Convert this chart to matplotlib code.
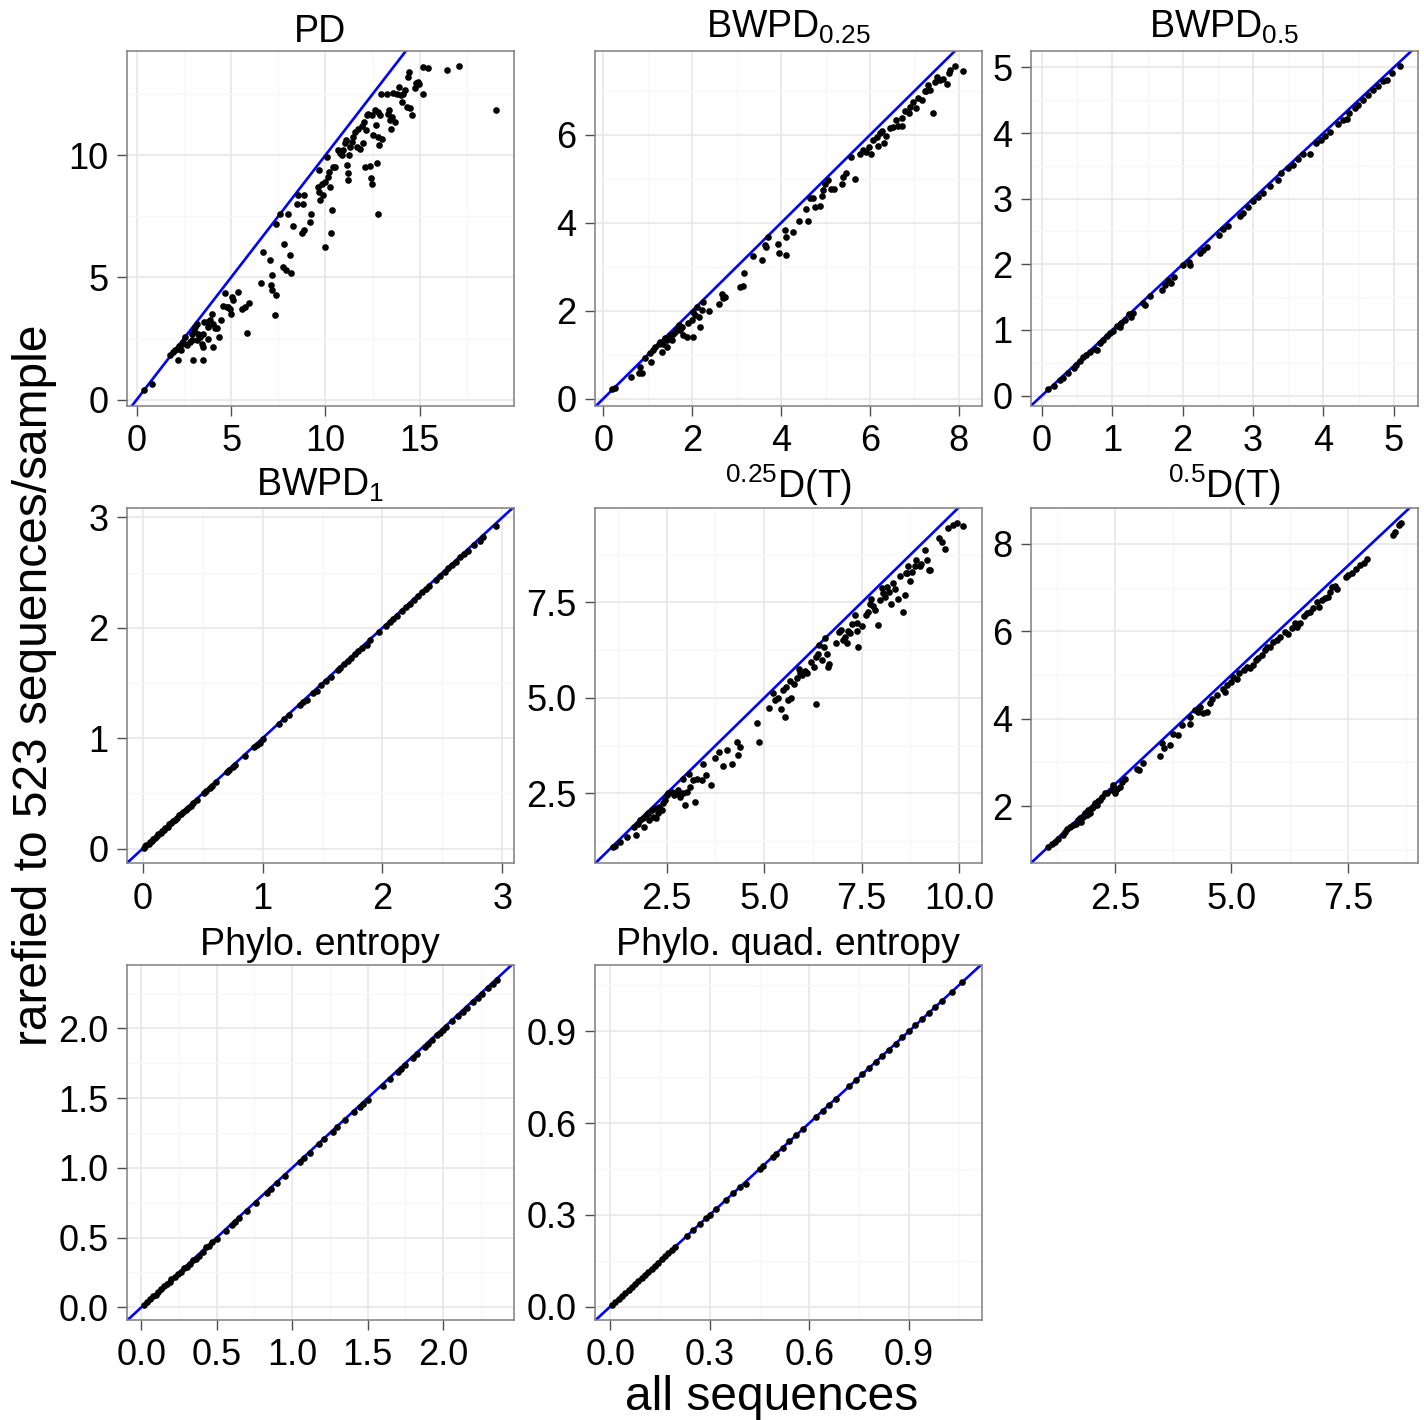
import matplotlib
matplotlib.use('Agg')
import matplotlib.pyplot as plt
from matplotlib.ticker import FixedLocator, FixedFormatter, MultipleLocator

plt.rcParams['font.family'] = ['Liberation Sans', 'DejaVu Sans']
plt.rcParams['mathtext.fontset'] = 'custom'
plt.rcParams['mathtext.rm'] = 'Liberation Sans'
plt.rcParams['mathtext.it'] = 'Liberation Sans:italic'
plt.rcParams['mathtext.bf'] = 'Liberation Sans:bold'

# ---------------- data ----------------
pd_x = [0.41, 0.80, 1.77, 1.94, 2.03, 2.16, 2.21, 2.26, 2.39, 2.33, 2.47, 2.56, 2.65, 2.83, 2.92, 3.00,
        3.04, 3.09, 3.18, 2.92, 3.18, 3.27, 3.36, 3.45, 3.50, 3.53, 3.53, 3.59, 3.71, 3.80, 3.80, 3.89,
        3.98, 4.03, 4.06, 4.15, 4.24, 4.38, 4.45, 4.59, 4.66, 4.77, 4.86, 4.95, 4.98, 5.04, 5.09, 5.39,
        5.57, 5.74, 5.83, 5.97, 6.57, 6.71, 7.07, 7.17, 7.10, 7.16, 7.33, 7.39, 7.37, 7.60, 7.74, 7.81,
        7.92, 8.04, 8.13, 8.16, 8.27, 8.48, 8.53, 8.75, 8.83, 8.89, 8.87, 9.19, 9.22, 9.63, 9.68, 9.65,
        9.72, 9.81, 9.89, 9.95, 9.98, 10.07, 10.16, 10.21, 10.25, 10.28, 10.34, 10.39, 10.51, 10.64,
        10.78, 10.87, 10.95, 11.04, 11.08, 11.13, 11.17, 11.22, 11.27, 11.31, 11.40, 11.48, 11.57,
        11.66, 11.75, 11.84, 11.93, 11.98, 12.05, 12.10, 12.16, 12.19, 12.28, 12.37, 12.40, 12.46,
        12.46, 12.54, 12.60, 12.67, 12.72, 12.76, 12.81, 12.81, 12.86, 12.90, 12.93, 12.99, 13.25,
        13.34, 13.39, 13.43, 13.46, 13.52, 13.57, 13.69, 13.78, 13.92, 13.99, 14.05, 14.13, 14.22,
        14.31, 14.36, 14.45, 14.49, 14.58, 14.75, 14.81, 14.93, 14.98, 15.16, 15.19, 15.46, 16.43,
        17.08, 19.06]
pd_y = [0.38, 0.65, 1.83, 1.95, 2.02, 2.09, 1.64, 2.18, 2.26, 2.02, 2.36, 2.56, 2.22, 2.36, 2.70, 1.64,
        2.84, 2.97, 3.11, 2.43, 2.43, 2.70, 2.56, 2.29, 2.70, 1.64, 2.16, 3.18, 3.18, 2.50, 2.97, 3.25,
        3.52, 2.16, 3.11, 2.95, 2.91, 2.56, 3.27, 3.82, 4.37, 3.79, 3.79, 3.72, 3.52, 4.20, 4.07, 4.41,
        3.72, 3.79, 2.73, 3.97, 4.77, 6.04, 5.73, 5.09, 4.68, 4.47, 3.45, 4.27, 7.18, 7.59, 5.43, 6.36,
        5.29, 7.59, 5.91, 5.18, 7.11, 8.02, 8.36, 6.82, 8.02, 8.36, 6.93, 7.27, 7.61, 8.70, 9.41, 8.50,
        8.16, 8.84, 8.36, 6.25, 8.91, 9.93, 9.11, 9.32, 8.70, 6.82, 7.75, 9.52, 9.50, 10.20,
        10.10, 10.00, 10.20, 10.48, 10.61, 9.59, 9.25, 8.98, 10.00, 10.34, 10.55, 10.75, 10.96,
        10.34, 11.09, 10.27, 11.19, 10.48, 11.36, 9.52, 11.02, 11.64, 11.70, 9.55, 9.05, 11.64,
        8.84, 10.82, 11.84, 11.23, 9.69, 11.77, 10.75, 7.61, 10.41, 11.64, 12.52, 10.68, 12.52,
        11.70, 11.84, 11.43, 11.09, 11.57, 12.55, 11.36, 12.52, 12.80, 12.46, 12.18, 12.52, 12.66,
        11.98, 13.21, 13.41, 11.91, 11.64, 12.73, 12.96, 13.00, 12.93, 12.50, 13.59, 13.55, 13.48,
        13.64, 11.84]

bw025_x = [0.19, 0.26, 0.61, 0.79, 0.82, 0.86, 0.94, 1.05, 1.06, 1.11, 1.16, 1.24, 1.27, 1.31, 1.35,
           1.39, 1.42, 1.44, 1.50, 1.54, 1.57, 1.61, 1.65, 1.69, 1.72, 1.76, 1.80, 1.87, 1.91, 1.99,
           2.02, 2.02, 2.06, 2.10, 2.14, 2.17, 2.21, 2.25, 2.38, 2.59, 2.66, 2.70, 2.74, 3.07, 3.15,
           3.16, 3.37, 3.58, 3.64, 3.67, 3.71, 3.94, 3.96, 4.09, 4.11, 4.11, 4.27, 4.41, 4.56, 4.61,
           4.65, 4.72, 4.76, 4.87, 4.93, 4.95, 4.99, 5.06, 5.13, 5.19, 5.36, 5.40, 5.46, 5.58, 5.66,
           5.77, 5.85, 5.92, 5.98, 6.03, 6.07, 6.15, 6.18, 6.22, 6.28, 6.31, 6.37, 6.45, 6.52, 6.58,
           6.63, 6.71, 6.73, 6.78, 6.88, 6.90, 6.97, 7.03, 7.08, 7.16, 7.23, 7.27, 7.31, 7.35, 7.42,
           7.46, 7.50, 7.57, 7.65, 7.74, 7.78, 7.80, 7.91, 8.10]
bw025_y = [0.21, 0.23, 0.48, 0.57, 0.72, 0.58, 0.93, 1.03, 0.84, 1.10, 1.18, 1.25, 1.29, 1.06, 1.25,
           1.37, 1.33, 1.18, 1.44, 1.33, 1.48, 1.52, 1.59, 1.67, 1.56, 1.63, 1.44, 1.40, 1.71, 1.78,
           1.39, 1.97, 1.90, 2.09, 1.86, 1.62, 2.01, 2.20, 2.00, 2.16, 2.39, 2.28, 2.32, 2.53, 2.56,
           2.86, 3.24, 3.15, 3.49, 3.45, 3.67, 3.52, 3.32, 3.83, 3.67, 3.27, 3.80, 4.05, 4.31, 4.05,
           4.57, 4.56, 4.37, 4.38, 4.61, 4.75, 4.88, 4.97, 4.76, 4.76, 4.88, 5.05, 5.14, 5.50, 4.99,
           5.57, 5.66, 5.62, 5.73, 5.57, 5.88, 5.96, 5.75, 6.04, 6.10, 5.81, 5.98, 6.15, 6.19, 6.33,
           6.20, 6.20, 6.38, 6.55, 6.51, 6.64, 6.76, 6.61, 6.83, 6.80, 6.99, 7.01, 7.14, 7.02, 6.49,
           7.21, 7.31, 7.25, 7.27, 7.16, 7.40, 7.48, 7.57, 7.46]

bw05_x = [0.09, 0.17, 0.26, 0.30, 0.37, 0.45, 0.49, 0.54, 0.59, 0.63, 0.68, 0.75, 0.78, 0.82, 0.87,
          0.92, 0.97, 1.01, 1.06, 1.11, 1.13, 1.18, 1.23, 1.27, 1.30, 1.43, 1.46, 1.53, 1.71, 1.75,
          1.79, 1.84, 1.87, 2.01, 2.09, 2.10, 2.24, 2.29, 2.34, 2.52, 2.58, 2.65, 2.81, 2.86, 2.93,
          3.00, 3.07, 3.14, 3.24, 3.36, 3.40, 3.50, 3.57, 3.64, 3.71, 3.81, 3.90, 3.97, 4.02, 4.09,
          4.21, 4.28, 4.33, 4.37, 4.45, 4.49, 4.56, 4.64, 4.71, 4.78, 4.85, 4.91, 4.97, 5.09]
bw05_y = [0.10, 0.15, 0.23, 0.26, 0.35, 0.42, 0.47, 0.53, 0.58, 0.62, 0.67, 0.71, 0.69, 0.80, 0.84,
          0.90, 0.95, 0.99, 1.06, 1.05, 1.10, 1.15, 1.24, 1.20, 1.26, 1.41, 1.38, 1.51, 1.61, 1.69,
          1.76, 1.71, 1.81, 1.99, 2.04, 1.99, 2.17, 2.22, 2.27, 2.45, 2.53, 2.58, 2.74, 2.78, 2.87,
          2.96, 3.03, 3.08, 3.19, 3.29, 3.39, 3.47, 3.52, 3.60, 3.68, 3.68, 3.85, 3.90, 3.95, 4.02,
          4.14, 4.20, 4.21, 4.30, 4.38, 4.42, 4.51, 4.58, 4.65, 4.71, 4.79, 4.81, 4.91, 5.02]

bw1_x = [0.01, 0.02, 0.03, 0.05, 0.06, 0.08, 0.09, 0.10, 0.12, 0.13, 0.15, 0.16, 0.18, 0.19, 0.21,
         0.22, 0.24, 0.25, 0.27, 0.29, 0.30, 0.32, 0.34, 0.36, 0.38, 0.40, 0.42, 0.45, 0.51, 0.53,
         0.56, 0.58, 0.61, 0.70, 0.72, 0.75, 0.77, 0.85, 0.93, 0.95, 0.98, 1.00, 1.14, 1.18, 1.22,
         1.31, 1.34, 1.37, 1.42, 1.45, 1.49, 1.53, 1.57, 1.63, 1.65, 1.68, 1.71, 1.74, 1.77, 1.80,
         1.83, 1.87, 1.90, 1.97, 2.03, 2.06, 2.09, 2.12, 2.16, 2.20, 2.23, 2.26, 2.30, 2.33, 2.36,
         2.39, 2.45, 2.48, 2.52, 2.55, 2.58, 2.61, 2.65, 2.68, 2.71, 2.76, 2.81, 2.84, 2.95]
bw1_y = [0.01, 0.02, 0.03, 0.04, 0.06, 0.07, 0.09, 0.10, 0.11, 0.13, 0.14, 0.16, 0.17, 0.19, 0.20,
         0.22, 0.23, 0.25, 0.26, 0.28, 0.30, 0.31, 0.33, 0.35, 0.37, 0.39, 0.41, 0.44, 0.50, 0.52,
         0.55, 0.57, 0.60, 0.69, 0.71, 0.74, 0.76, 0.84, 0.92, 0.94, 0.96, 0.99, 1.13, 1.17, 1.21,
         1.30, 1.33, 1.35, 1.41, 1.43, 1.48, 1.52, 1.55, 1.62, 1.64, 1.67, 1.70, 1.73, 1.76, 1.79,
         1.82, 1.84, 1.89, 1.96, 2.02, 2.05, 2.08, 2.11, 2.15, 2.19, 2.22, 2.25, 2.29, 2.32, 2.35,
         2.38, 2.43, 2.47, 2.51, 2.54, 2.57, 2.60, 2.64, 2.67, 2.70, 2.75, 2.79, 2.82, 2.92]

d025_x = [1.12, 1.18, 1.30, 1.49, 1.66, 1.71, 1.77, 1.83, 1.90, 1.92, 1.97, 2.03, 2.06, 2.12, 2.16,
          2.20, 2.24, 2.29, 2.31, 2.37, 2.41, 2.46, 2.50, 2.54, 2.63, 2.69, 2.76, 2.80, 2.84, 2.91,
          2.93, 2.97, 3.01, 3.08, 3.10, 3.17, 3.23, 3.27, 3.40, 3.42, 3.52, 3.64, 3.74, 3.85, 3.95,
          4.04, 4.17, 4.31, 4.34, 4.38, 4.82, 4.87, 5.13, 5.23, 5.28, 5.36, 5.42, 5.49, 5.53, 5.57,
          5.62, 5.66, 5.68, 5.76, 5.83, 5.90, 5.93, 5.98, 6.04, 6.10, 6.21, 6.28, 6.33, 6.34, 6.39,
          6.41, 6.47, 6.53, 6.56, 6.60, 6.64, 6.67, 6.84, 6.92, 6.96, 7.01, 7.07, 7.11, 7.15, 7.20,
          7.24, 7.32, 7.37, 7.38, 7.41, 7.50, 7.62, 7.67, 7.71, 7.75, 7.79, 7.84, 7.92, 7.97, 8.01,
          8.05, 8.09, 8.15, 8.20, 8.24, 8.29, 8.35, 8.44, 8.48, 8.56, 8.61, 8.63, 8.67, 8.69, 8.73,
          8.80, 8.86, 8.90, 8.99, 9.03, 9.12, 9.18, 9.23, 9.26, 9.49, 9.55, 9.63, 9.72, 9.84, 9.95,
          10.10]
d025_y = [1.09, 1.12, 1.22, 1.35, 1.63, 1.41, 1.71, 1.80, 1.85, 1.63, 1.93, 1.98, 1.80, 2.06, 1.89,
          2.11, 1.85, 1.98, 2.15, 2.06, 2.24, 2.33, 2.46, 2.50, 2.54, 2.46, 2.50, 2.59, 2.41, 2.89,
          2.50, 2.19, 2.54, 3.02, 2.66, 2.85, 2.28, 2.89, 2.85, 3.27, 2.98, 2.72, 3.42, 3.59, 3.22,
          3.63, 3.27, 3.85, 3.50, 3.72, 4.35, 3.85, 4.73, 5.12, 4.94, 4.99, 4.70, 5.21, 4.49, 5.29,
          4.94, 5.45, 4.99, 5.36, 5.51, 5.77, 5.64, 5.60, 5.71, 5.66, 5.95, 5.82, 6.06, 4.83, 6.16,
          6.38, 5.99, 6.34, 6.56, 6.16, 5.82, 5.89, 6.43, 6.73, 6.79, 6.51, 6.60, 6.43, 6.76, 6.71,
          6.93, 7.17, 6.76, 6.97, 6.32, 6.88, 7.17, 7.26, 7.46, 7.58, 7.40, 7.30, 6.91, 7.56, 7.87,
          7.74, 7.65, 7.91, 7.78, 7.47, 8.00, 7.84, 7.60, 8.19, 7.26, 7.69, 8.26, 8.28, 8.45, 8.07,
          8.30, 8.45, 8.61, 8.45, 8.50, 8.87, 8.61, 8.35, 8.35, 9.18, 9.09, 8.91, 9.44, 9.52, 9.59,
          9.50]

d05_x = [1.07, 1.14, 1.21, 1.28, 1.39, 1.43, 1.48, 1.53, 1.60, 1.66, 1.71, 1.75, 1.78, 1.82, 1.86,
         1.89, 1.93, 1.96, 2.00, 2.03, 2.07, 2.11, 2.14, 2.18, 2.23, 2.29, 2.32, 2.43, 2.46, 2.50,
         2.55, 2.61, 2.66, 2.71, 2.98, 3.02, 3.11, 3.47, 3.52, 3.55, 3.68, 3.74, 3.86, 3.93, 4.10,
         4.11, 4.22, 4.29, 4.33, 4.40, 4.47, 4.54, 4.58, 4.68, 4.81, 4.86, 4.91, 4.99, 5.04, 5.11,
         5.17, 5.26, 5.33, 5.40, 5.46, 5.53, 5.58, 5.65, 5.72, 5.77, 5.83, 5.90, 5.97, 6.05, 6.15,
         6.22, 6.30, 6.37, 6.40, 6.48, 6.55, 6.62, 6.69, 6.76, 6.83, 6.89, 6.94, 7.01, 7.08, 7.12,
         7.16, 7.23, 7.26, 7.46, 7.51, 7.59, 7.68, 7.76, 7.84, 7.91, 8.47, 8.52, 8.59, 8.64]
d05_y = [1.07, 1.13, 1.18, 1.24, 1.34, 1.41, 1.47, 1.53, 1.56, 1.60, 1.68, 1.72, 1.64, 1.76, 1.83,
         1.79, 1.91, 1.85, 1.95, 1.98, 2.06, 2.02, 2.12, 2.14, 2.21, 2.29, 2.31, 2.37, 2.48, 2.29,
         2.40, 2.44, 2.56, 2.63, 2.86, 2.82, 2.99, 3.15, 3.44, 3.34, 3.40, 3.66, 3.63, 3.85, 3.89,
         4.05, 4.20, 4.16, 4.26, 4.14, 4.16, 4.37, 4.44, 4.54, 4.69, 4.60, 4.77, 4.85, 4.96, 4.92,
         5.04, 5.11, 5.19, 5.15, 5.23, 5.34, 5.38, 5.46, 5.57, 5.65, 5.65, 5.76, 5.80, 5.86, 5.99,
         5.95, 6.07, 6.18, 6.11, 6.18, 6.34, 6.41, 6.45, 6.53, 6.68, 6.56, 6.72, 6.76, 6.79, 6.91,
         7.02, 7.04, 6.98, 7.24, 7.29, 7.34, 7.42, 7.52, 7.56, 7.65, 8.21, 8.28, 8.44, 8.47]

pe_x = [0.02, 0.04, 0.06, 0.08, 0.10, 0.11, 0.13, 0.15, 0.17, 0.19, 0.20, 0.22, 0.24, 0.26, 0.28,
        0.30, 0.32, 0.34, 0.36, 0.38, 0.41, 0.43, 0.45, 0.47, 0.50, 0.56, 0.60, 0.62, 0.65, 0.70,
        0.76, 0.83, 0.86, 0.90, 0.95, 1.05, 1.08, 1.12, 1.18, 1.21, 1.27, 1.30, 1.35, 1.41, 1.45,
        1.47, 1.50, 1.60, 1.65, 1.70, 1.72, 1.75, 1.80, 1.83, 1.88, 1.90, 1.93, 1.96, 1.98, 2.00,
        2.02, 2.06, 2.10, 2.13, 2.16, 2.20, 2.23, 2.26, 2.30, 2.33, 2.36]
pe_y = [0.02, 0.04, 0.06, 0.08, 0.09, 0.11, 0.13, 0.15, 0.17, 0.18, 0.20, 0.22, 0.24, 0.25, 0.28,
        0.29, 0.31, 0.34, 0.35, 0.37, 0.40, 0.43, 0.44, 0.47, 0.49, 0.55, 0.59, 0.61, 0.64, 0.69,
        0.75, 0.82, 0.85, 0.89, 0.94, 1.04, 1.07, 1.11, 1.17, 1.21, 1.26, 1.29, 1.34, 1.40, 1.44,
        1.46, 1.49, 1.59, 1.64, 1.69, 1.71, 1.74, 1.79, 1.82, 1.87, 1.89, 1.92, 1.95, 1.97, 1.99,
        2.01, 2.05, 2.09, 2.12, 2.15, 2.19, 2.22, 2.25, 2.29, 2.32, 2.35]

pq_x = [0.005, 0.015, 0.025, 0.035, 0.045, 0.055, 0.065, 0.075, 0.085, 0.095, 0.105, 0.115, 0.125,
        0.135, 0.145, 0.155, 0.165, 0.175, 0.185, 0.195, 0.23, 0.25, 0.27, 0.29, 0.30, 0.32, 0.35,
        0.37, 0.39, 0.41, 0.45, 0.46, 0.49, 0.50, 0.52, 0.54, 0.56, 0.58, 0.62, 0.64, 0.66, 0.68,
        0.72, 0.74, 0.76, 0.78, 0.80, 0.82, 0.84, 0.86, 0.88, 0.90, 0.92, 0.94, 0.96, 0.98, 1.00,
        1.03, 1.06]
pq_y = [0.005, 0.014, 0.024, 0.034, 0.044, 0.054, 0.064, 0.074, 0.084, 0.094, 0.104, 0.114, 0.124,
        0.134, 0.144, 0.154, 0.164, 0.174, 0.184, 0.194, 0.23, 0.25, 0.27, 0.29, 0.30, 0.32, 0.35,
        0.37, 0.39, 0.40, 0.45, 0.46, 0.49, 0.50, 0.52, 0.54, 0.56, 0.58, 0.62, 0.64, 0.66, 0.68,
        0.72, 0.74, 0.76, 0.78, 0.80, 0.82, 0.84, 0.86, 0.88, 0.90, 0.92, 0.94, 0.96, 0.98, 1.00,
        1.03, 1.06]

titles = ['PD', r'BWPD$_{0.25}$', r'BWPD$_{0.5}$', r'BWPD$_{1}$',
          r'${}^{0.25}$D(T)', r'${}^{0.5}$D(T)', 'Phylo. entropy', 'Phylo. quad. entropy']
xs = [pd_x, bw025_x, bw05_x, bw1_x, d025_x, d05_x, pe_x, pq_x]
ys = [pd_y, bw025_y, bw05_y, bw1_y, d025_y, d05_y, pe_y, pq_y]

xticks = [[0, 5, 10, 15], [0, 2, 4, 6, 8], [0, 1, 2, 3, 4, 5], [0, 1, 2, 3],
          [2.5, 5.0, 7.5, 10.0], [2.5, 5.0, 7.5], [0.0, 0.5, 1.0, 1.5, 2.0], [0.0, 0.3, 0.6, 0.9]]
xticklabels = [['0', '5', '10', '15'], ['0', '2', '4', '6', '8'], ['0', '1', '2', '3', '4', '5'],
               ['0', '1', '2', '3'], ['2.5', '5.0', '7.5', '10.0'], ['2.5', '5.0', '7.5'],
               ['0.0', '0.5', '1.0', '1.5', '2.0'], ['0.0', '0.3', '0.6', '0.9']]
yticks = [[0, 5, 10], [0, 2, 4, 6], [0, 1, 2, 3, 4, 5], [0, 1, 2, 3],
          [2.5, 5.0, 7.5], [2, 4, 6, 8], [0.0, 0.5, 1.0, 1.5, 2.0], [0.0, 0.3, 0.6, 0.9]]
yticklabels = [['0', '5', '10'], ['0', '2', '4', '6'], ['0', '1', '2', '3', '4', '5'],
               ['0', '1', '2', '3'], ['2.5', '5.0', '7.5'], ['2', '4', '6', '8'],
               ['0.0', '0.5', '1.0', '1.5', '2.0'], ['0.0', '0.3', '0.6', '0.9']]
xminor = [2.5, 1, 0.5, 0.5, 1.25, 1.25, 0.25, 0.15]
yminor = [2.5, 1, 0.5, 0.5, 1.25, 1, 0.25, 0.15]
xlims = [(-0.53, 19.99), (-0.19, 8.51), (-0.16, 5.34), (-0.133, 3.097),
         (0.664, 10.57), (0.69, 9.0), (-0.097, 2.471), (-0.046, 1.119)]
ylims = [(-0.26, 14.26), (-0.17, 7.91), (-0.16, 5.25), (-0.133, 3.088),
         (0.67, 9.98), (0.69, 8.83), (-0.091, 2.455), (-0.044, 1.117)]
title_pads = [6.5, 9.5, 9.5, 9.0, 4.5, 4.5, 7.0, 7.0]

# ---------------- layout ----------------
W, H = 1424, 1420
fig = plt.figure(figsize=(W / 100, H / 100), dpi=100)
fig.patch.set_facecolor('white')

col_l = [126.7, 595.0, 1030.7]
col_r = [514.0, 981.5, 1417.7]
row_t = [51.0, 507.7, 965.0]
row_b = [406.0, 863.3, 1320.0]

for i in range(8):
    r, c = divmod(i, 3)
    ax = fig.add_axes([col_l[c] / W, 1 - row_b[r] / H,
                       (col_r[c] - col_l[c]) / W, (row_b[r] - row_t[r]) / H])
    ax.set_facecolor('white')
    ax.set_axisbelow(True)
    ax.set_xlim(*xlims[i])
    ax.set_ylim(*ylims[i])
    ax.xaxis.set_major_locator(FixedLocator(xticks[i]))
    ax.xaxis.set_major_formatter(FixedFormatter(xticklabels[i]))
    ax.yaxis.set_major_locator(FixedLocator(yticks[i]))
    ax.yaxis.set_major_formatter(FixedFormatter(yticklabels[i]))
    ax.xaxis.set_minor_locator(MultipleLocator(xminor[i]))
    ax.yaxis.set_minor_locator(MultipleLocator(yminor[i]))
    ax.grid(which='minor', color='#F7F7F7', linewidth=1.0)
    ax.grid(which='major', color='#E6E6E6', linewidth=1.1)
    ax.tick_params(which='minor', length=0)
    ax.tick_params(which='major', length=7.2, width=1.0, color='#4D4D4D',
                   labelsize=26, labelcolor='black', pad=6)
    for sp in ax.spines.values():
        sp.set_color('#7F7F7F')
        sp.set_linewidth(1.1)
    ax.axline((0, 0), slope=1, color='#0000FF', linewidth=1.9, zorder=2)
    ax.scatter(xs[i], ys[i], s=23, c='black', linewidths=0, zorder=3)
    ax.set_title(titles[i], fontsize=27, pad=title_pads[i])

fig.text(35 / W, 1 - 685 / H, 'rarefied to 523 sequences/sample', rotation=90,
         ha='center', va='center', fontsize=34.5)
fig.text(772 / W, 1 - 1410 / H, 'all sequences', ha='center', va='baseline', fontsize=34.5)

fig.savefig('out.png', dpi=100, facecolor='white')
